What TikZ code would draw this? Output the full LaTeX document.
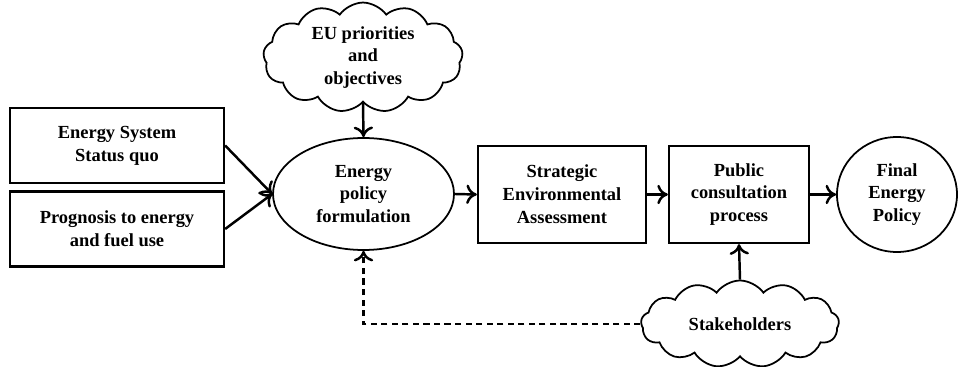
\documentclass[tikz,border=0pt]{standalone}
\usepackage{fontspec}
\setmainfont{Liberation Serif}
\usepackage{tikz}
\usetikzlibrary{arrows.meta,positioning,shapes,shapes.symbols}

\tikzset{
  box/.style={draw, line width=1.3pt, align=center, font=\bfseries\fontsize{10.5}{13}\selectfont},
  oval/.style={draw, ellipse, line width=1pt, align=center, inner sep=0pt, font=\bfseries\fontsize{10.5}{13}\selectfont},
  puff/.style={draw, cloud, cloud puffs=13, cloud puff arc=110, aspect=2.2, line width=1pt, align=center, inner sep=0pt, font=\bfseries\fontsize{10.5}{13}\selectfont},
  flow/.style={-{To[length=6pt,width=11pt]}, line width=1.4pt},
}

\begin{document}
\begin{tikzpicture}[scale=1]
  \useasboundingbox (0,0) rectangle (19.22,-7.34);

  % Inputs
  \node[box, minimum width=4.28cm, minimum height=1.5cm] (status) at (2.34,-2.91) {Energy System\\Status quo};
  \node[box, minimum width=4.28cm, minimum height=1.5cm] (prog) at (2.34,-4.58) {Prognosis to energy\\and fuel use};

  % Main chain
  \node[oval, minimum width=3.62cm, minimum height=2.24cm] (form) at (7.27,-3.88) {Energy\\policy\\formulation};
  \node[box, minimum width=3.36cm, minimum height=1.94cm] (sea) at (11.24,-3.89) {Strategic\\Environmental\\Assessment};
  \node[box, minimum width=2.8cm, minimum height=1.94cm] (pub) at (14.78,-3.89) {Public\\consultation\\process};
  \node[oval, minimum width=2.4cm, minimum height=2.3cm] (final) at (17.94,-3.89) {Final\\Energy\\Policy};

  % Clouds
  \node[puff, minimum width=3.96cm, minimum height=1.82cm] (eu) at (7.26,-1.15) {EU priorities\\and\\objectives};
  \node[puff, minimum width=3.96cm, minimum height=1.74cm] (stake) at (14.8,-6.48) {Stakeholders};

  % Arrows
  \draw[flow] (status.east) -- (form.west);
  \draw[flow] (prog.east) -- (form.west);
  \draw[flow] (eu.south) -- (form.north);
  \draw[flow] (form.east) -- (sea.west);
  \draw[flow] (sea.east) -- (pub.west);
  \draw[flow] (pub.east) -- (final.west);
  \draw[flow] (stake.north) -- (pub.south);

  % Feedback
  \draw[flow, dash pattern=on 3.5pt off 2.5pt] (stake.west) -| (form.south);
\end{tikzpicture}
\end{document}
